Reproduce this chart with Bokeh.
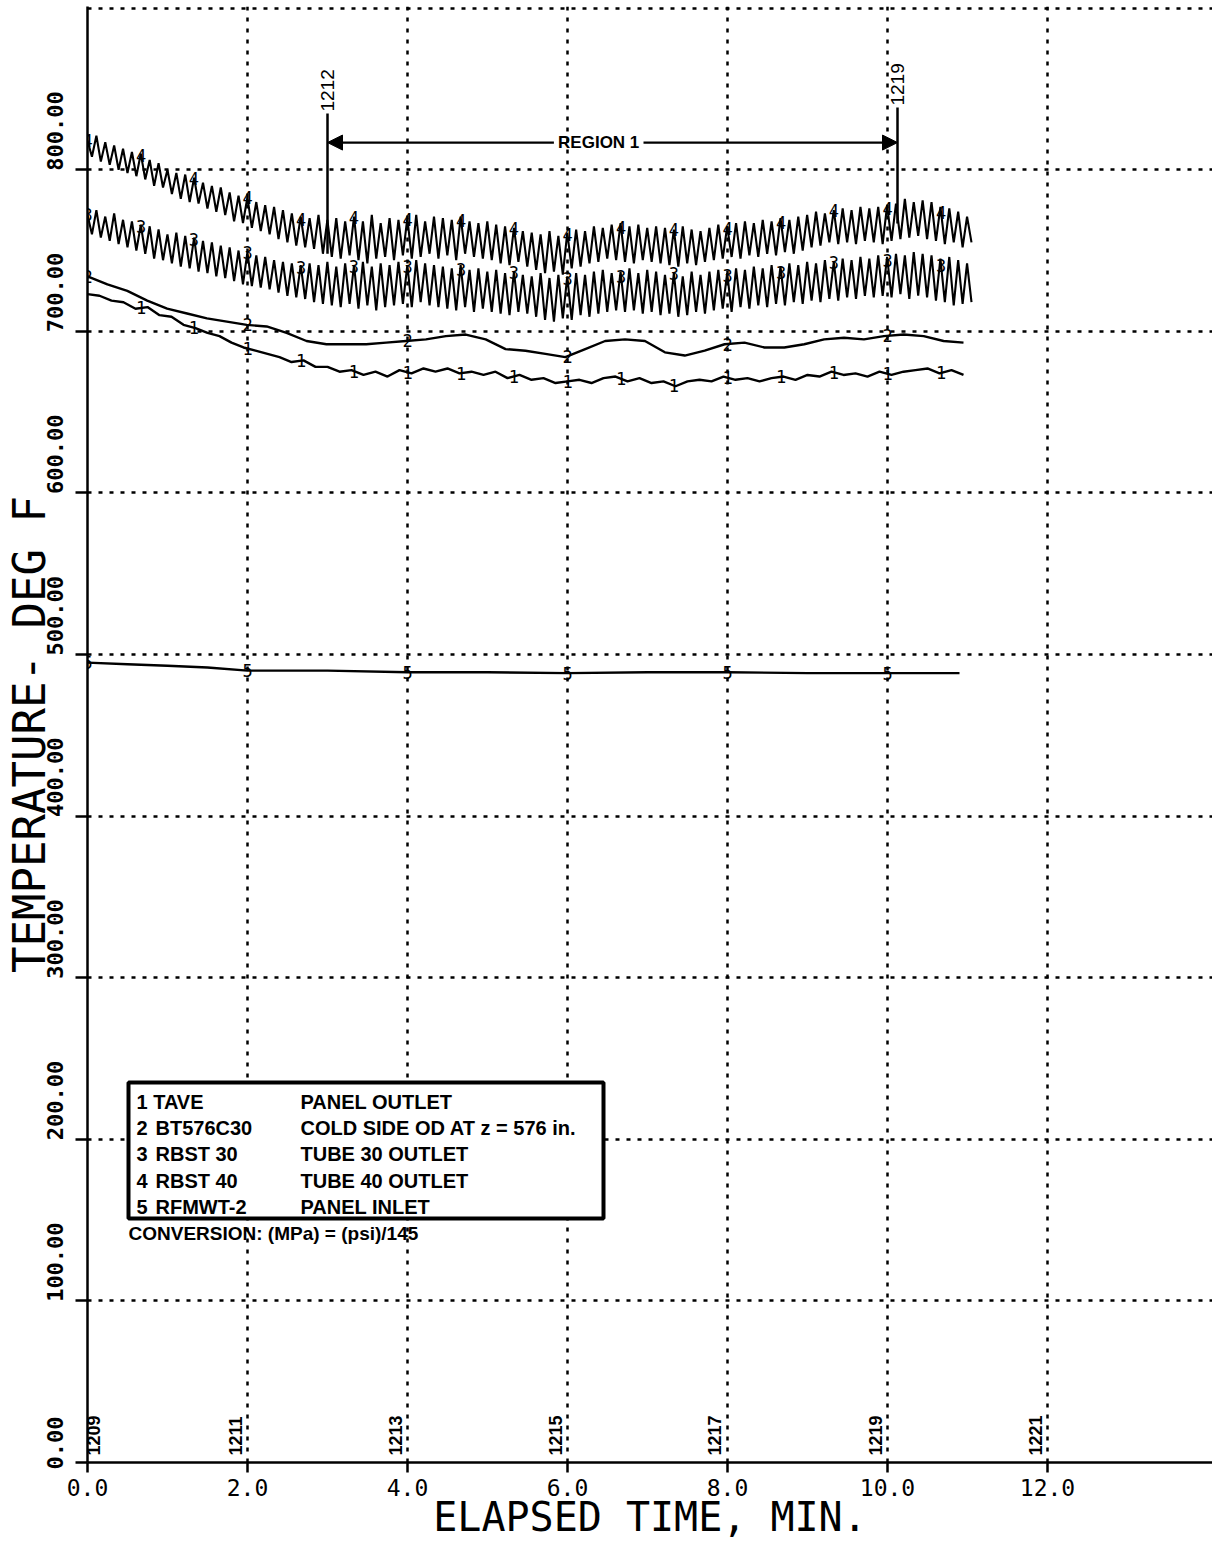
import numpy as np
from math import pi
from bokeh.plotting import figure
from bokeh.models import (Range1d, FixedTicker, LinearAxis, Arrow, NormalHead)
from bokeh.core.properties import value
from bokeh.embed import file_html
from bokeh.resources import INLINE

# ---------------- data ----------------
x_ticks = [0, 2, 4, 6, 8, 10, 12]
x_tick_labels = ["0.0", "2.0", "4.0", "6.0", "8.0", "10.0", "12.0"]
y_ticks = [0, 100, 200, 300, 400, 500, 600, 700, 800]
y_tick_labels = ["0.00", "100.00", "200.00", "300.00", "400.00", "500.00",
                 "600.00", "700.00", "800.00"]

scan_x = [0.075, 1.85, 3.85, 5.85, 7.84, 9.85, 11.85]
scan_labels = ["1209", "1211", "1213", "1215", "1217", "1219", "1221"]

# series 1  TAVE (panel outlet)
t1 = np.linspace(0.0, 10.95, 74)
s1 = [723, 722, 719, 718, 714, 715, 710, 709, 704, 702,
      699, 697, 693, 690, 688, 686, 684, 681, 682, 678,
      678, 675, 676, 673, 675, 672, 676, 674, 677, 675,
      677, 674, 675, 673, 675, 671, 673, 670, 671, 668,
      669, 670, 668, 671, 672, 669, 671, 668, 669, 666,
      669, 670, 669, 672, 670, 671, 669, 671, 672, 670,
      673, 672, 675, 673, 674, 672, 675, 673, 675, 676,
      677, 674, 676, 673]

# series 2  BT576C30
t2 = np.linspace(0.0, 10.95, 45)
s2 = [734, 729, 725, 719, 714, 711, 708, 706, 704, 703,
      699, 694, 692, 692, 692, 693, 694, 695, 697, 698,
      695, 689, 688, 686, 684, 689, 694, 695, 694, 687,
      685, 688, 692, 693, 690, 690, 692, 695, 696, 695,
      697, 698, 697, 694, 693]

# series 3 / 4  RBST 30 / RBST 40 (oscillating)
t34 = np.linspace(0.0, 11.05, 200)
s3 = [772, 760, 775, 758, 771, 756, 773, 754, 769, 752,
      768, 750, 766, 748, 765, 745, 763, 744, 760, 742,
      761, 740, 759, 739, 758, 737, 756, 736, 755, 734,
      753, 733, 752, 731, 750, 729, 749, 728, 747, 727,
      746, 726, 744, 724, 743, 722, 742, 721, 741, 720,
      742, 718, 741, 717, 743, 716, 740, 715, 742, 717,
      741, 714, 743, 716, 740, 713, 742, 715, 741, 716,
      743, 717, 741, 715, 744, 718, 742, 716, 741, 715,
      740, 714, 739, 713, 741, 715, 738, 712, 739, 714,
      737, 712, 738, 711, 736, 710, 737, 712, 735, 711,
      734, 709, 736, 707, 733, 706, 735, 708, 734, 707,
      736, 710, 735, 709, 737, 711, 738, 712, 736, 713,
      737, 712, 739, 713, 736, 711, 738, 712, 737, 710,
      735, 711, 736, 709, 734, 710, 737, 712, 735, 711,
      737, 713, 738, 714, 736, 712, 739, 715, 738, 714,
      740, 716, 739, 715, 741, 717, 740, 716, 742, 718,
      741, 717, 743, 719, 742, 718, 744, 720, 743, 719,
      745, 721, 744, 720, 746, 722, 745, 721, 747, 722,
      746, 721, 748, 723, 747, 720, 749, 722, 748, 721,
      747, 719, 745, 718, 746, 716, 744, 717, 742, 718]
s4 = [818, 808, 821, 805, 817, 803, 815, 800, 813, 798,
      811, 796, 810, 794, 806, 790, 804, 789, 800, 785,
      798, 782, 797, 780, 795, 779, 792, 776, 790, 774,
      789, 772, 786, 768, 784, 767, 783, 764, 780, 762,
      778, 760, 777, 757, 775, 755, 773, 753, 771, 752,
      770, 751, 772, 748, 769, 746, 770, 745, 768, 747,
      771, 744, 768, 742, 772, 745, 767, 746, 770, 744,
      769, 747, 770, 745, 772, 746, 768, 748, 771, 745,
      770, 747, 769, 744, 771, 748, 768, 746, 767, 745,
      768, 744, 766, 742, 765, 741, 764, 743, 762, 740,
      761, 738, 760, 736, 762, 737, 759, 735, 761, 739,
      763, 740, 762, 742, 765, 743, 764, 745, 766, 744,
      767, 743, 765, 742, 766, 744, 764, 743, 765, 742,
      764, 741, 763, 740, 765, 742, 763, 741, 762, 743,
      764, 744, 766, 745, 765, 746, 767, 745, 768, 747,
      767, 746, 769, 748, 768, 747, 770, 749, 769, 748,
      771, 750, 772, 752, 774, 753, 773, 755, 775, 754,
      776, 755, 775, 754, 777, 756, 776, 755, 777, 754,
      778, 756, 779, 757, 782, 758, 780, 759, 781, 757,
      780, 756, 777, 754, 776, 755, 774, 752, 771, 755]

# series 5  RFMWT-2 (panel inlet)
t5 = [0.0, 0.5, 1.0, 1.5, 2.0, 3.0, 4.0, 5.0, 6.0, 7.0, 8.0, 9.0, 10.0, 10.9]
s5 = [495, 494, 493, 492, 490, 490, 489, 489, 488.5, 489, 489, 488.5, 488.5, 488.5]

# symbol positions along curves
sym_x_dense = [0.0, 0.67, 1.33, 2.0, 2.67, 3.33, 4.0, 4.67, 5.33, 6.0,
               6.67, 7.33, 8.0, 8.67, 9.33, 10.0, 10.67]
sym_x_1 = sym_x_dense[1:]
sym_x_sparse = [0.0, 2.0, 4.0, 6.0, 8.0, 10.0]

legend_ids = ["1 TAVE", "2", "3", "4", "5"]
legend_names = ["", "BT576C30", "RBST 30", "RBST 40", "RFMWT-2"]
legend_desc = ["PANEL OUTLET", "COLD SIDE OD AT z = 576 in.", "TUBE 30 OUTLET",
               "TUBE 40 OUTLET", "PANEL INLET"]

# ---------------- figure ----------------
p = figure(width=1212, height=1545, output_backend="svg", toolbar_location=None,
           x_range=Range1d(0, 14.0625), y_range=Range1d(0, 901))
p.min_border_left = 87
p.min_border_right = 0
p.min_border_top = 6
p.min_border_bottom = 83
p.outline_line_color = None
p.background_fill_color = "white"
p.border_fill_color = "white"

mono = "DejaVu Sans Mono"
sans = "Liberation Sans"

# x axis
p.xaxis.ticker = FixedTicker(ticks=x_ticks)
p.xaxis.major_label_overrides = {t: l for t, l in zip(x_ticks, x_tick_labels)}
p.xaxis.major_label_text_font = mono
p.xaxis.major_label_text_font_size = "23px"
p.xaxis.major_label_text_color = "black"
p.xaxis.major_label_standoff = 6
p.xaxis.major_tick_out = 10
p.xaxis.major_tick_in = 0
p.xaxis.minor_tick_out = 0
p.xaxis.minor_tick_in = 0
p.xaxis.axis_line_width = 2.5
p.xaxis.major_tick_line_width = 2.5
p.xaxis.axis_label = "ELAPSED TIME, MIN."
p.xaxis.axis_label_text_font = mono
p.xaxis.axis_label_text_font_style = "normal"
p.xaxis.axis_label_text_font_size = "40px"
p.xaxis.axis_label_text_color = "black"
p.xaxis.axis_label_standoff = -5

# y axis: line and ticks
p.yaxis.ticker = FixedTicker(ticks=y_ticks)
p.yaxis.major_label_overrides = {t: "" for t in y_ticks}
p.yaxis.major_label_standoff = 0
p.yaxis.major_tick_out = 12
p.yaxis.major_tick_in = 0
p.yaxis.minor_tick_out = 0
p.yaxis.minor_tick_in = 0
p.yaxis.axis_line_width = 2.5
p.yaxis.major_tick_line_width = 2.5

# y axis: tick labels that start at their tick (as on the plotter chart), plus title
label_shift = [12] + [24] * (len(y_ticks) - 1)
lab_pos = [t + s for t, s in zip(y_ticks, label_shift)]
ylab = LinearAxis(ticker=FixedTicker(ticks=lab_pos),
                  major_label_overrides={pp: l for pp, l in zip(lab_pos, y_tick_labels)},
                  axis_line_color=None, major_tick_line_color=None,
                  minor_tick_line_color=None, major_tick_out=0, major_tick_in=0,
                  minor_tick_out=0, minor_tick_in=0, major_label_standoff=12,
                  major_label_orientation="vertical",
                  major_label_text_font=mono, major_label_text_font_style="bold",
                  major_label_text_font_size="22px", major_label_text_color="black",
                  axis_label="TEMPERATURE- DEG F", axis_label_text_font=mono,
                  axis_label_text_font_style="normal", axis_label_text_font_size="44px",
                  axis_label_text_color="black", axis_label_standoff=-10)
p.add_layout(ylab, "left")

# grid
p.xgrid.ticker = FixedTicker(ticks=[2, 4, 6, 8, 10, 12])
p.ygrid.ticker = FixedTicker(ticks=[100, 200, 300, 400, 500, 600, 700, 800, 900])
for g in (p.xgrid, p.ygrid):
    g.grid_line_color = "black"
    g.grid_line_dash = "4 7"
    g.grid_line_width = 2.5

# series lines
lw = 2.4
p.line(t5, s5, line_color="black", line_width=lw)
p.line(t1, s1, line_color="black", line_width=lw)
p.line(t2, s2, line_color="black", line_width=lw)
p.line(t34, s3, line_color="black", line_width=2.1)
p.line(t34, s4, line_color="black", line_width=2.1)

# curve symbols
def sym(xs, ts, ss, ch):
    ys = np.interp(xs, ts, ss)
    p.text(x=list(xs), y=list(ys), text=[ch] * len(xs), text_font=value(mono),
           text_font_size="17px", text_align="center", text_baseline="middle",
           text_color="black")

sym(sym_x_1, t1, s1, "1")
sym(sym_x_sparse, t2, s2, "2")
sym(sym_x_dense, t34, s3, "3")
sym(sym_x_dense, t34, s4, "4")
sym(sym_x_sparse, t5, s5, "5")

# region 1 annotation
p.segment(x0=[3.0, 10.125], y0=[748, 766.7], x1=[3.0, 10.125], y1=[834.8, 838.5],
          line_color="black", line_width=2.5)
p.add_layout(Arrow(end=NormalHead(size=15, fill_color="black", line_color="black"),
                   x_start=5.83, y_start=816.8, x_end=3.0, y_end=816.8,
                   line_width=2.2, line_color="black"))
p.add_layout(Arrow(end=NormalHead(size=15, fill_color="black", line_color="black"),
                   x_start=6.95, y_start=816.8, x_end=10.125, y_end=816.8,
                   line_width=2.2, line_color="black"))
p.text(x=[6.39], y=[816.8], text=["REGION 1"], text_font=value(sans),
       text_font_style="bold", text_font_size="17px", text_align="center",
       text_baseline="middle", text_color="black")
p.text(x=[3.0, 10.125], y=[836.0, 839.7], text=["1212", "1219"], angle=pi / 2,
       text_font=value(sans), text_font_size="19px", text_align="left",
       text_baseline="middle", text_color="black")

# scan numbers along the bottom
p.text(x=scan_x, y=[4.3] * len(scan_x), text=scan_labels, angle=pi / 2,
       text_font=value(sans), text_font_style="bold", text_font_size="18px",
       text_align="left", text_baseline="middle", text_color="black")

# legend box
p.quad(left=[0.5125], right=[6.45], bottom=[151.0], top=[235.1],
       fill_color="white", line_color="black", line_width=4)
row_y = [222.8, 206.7, 190.6, 174.5, 158.4]
p.text(x=[0.6125] * 5, y=row_y, text=legend_ids, text_font=value(sans),
       text_font_style="bold", text_font_size="20px", text_align="left",
       text_baseline="middle", text_color="black")
p.text(x=[0.85] * 4, y=row_y[1:], text=legend_names[1:], text_font=value(sans),
       text_font_style="bold", text_font_size="20px", text_align="left",
       text_baseline="middle", text_color="black")
p.text(x=[2.6625] * 5, y=row_y, text=legend_desc, text_font=value(sans),
       text_font_style="bold", text_font_size="20px", text_align="left",
       text_baseline="middle", text_color="black")
p.text(x=[0.5125], y=[141.7], text=["CONVERSION: (MPa) = (psi)/145"],
       text_font=value(sans), text_font_style="bold", text_font_size="19px",
       text_align="left", text_baseline="middle", text_color="black")

open("out.html", "w").write(file_html(p, INLINE))
